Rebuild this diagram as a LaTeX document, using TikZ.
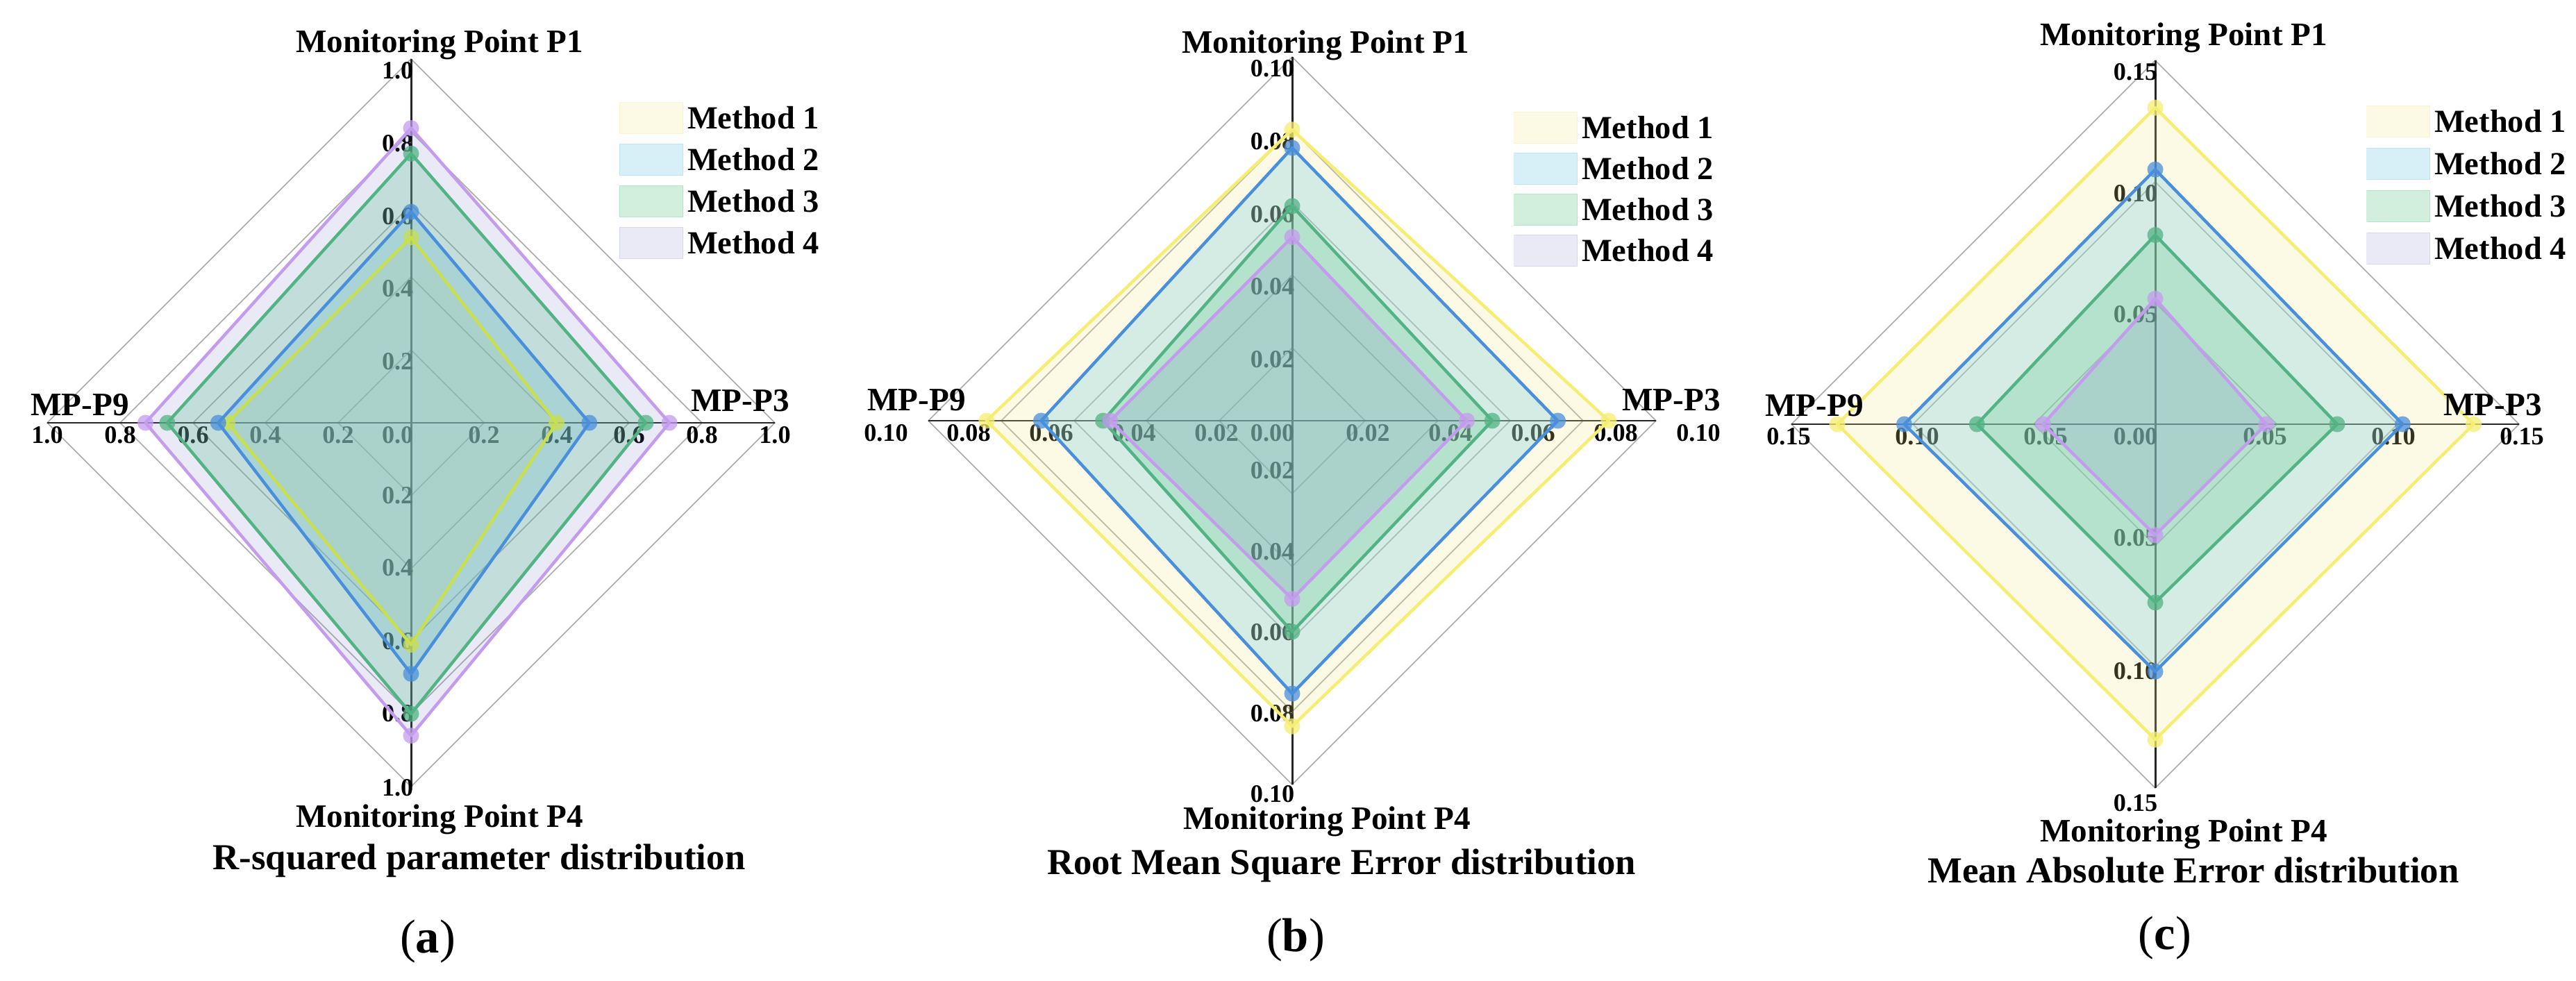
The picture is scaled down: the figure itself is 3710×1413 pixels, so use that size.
\documentclass[tikz,border=0pt]{standalone}
\usepackage{fontspec}
\setmainfont{Liberation Serif}
\usetikzlibrary{positioning}

\definecolor{mAline}{HTML}{F6EE72}
\definecolor{mAlime}{HTML}{C8DF50}
\definecolor{mAfill}{HTML}{F2E68A}
\definecolor{mBline}{HTML}{4A8FDB}
\definecolor{mBfill}{HTML}{7CCFE8}
\definecolor{mCline}{HTML}{52B384}
\definecolor{mCfill}{HTML}{6CCB94}
\definecolor{mDline}{HTML}{C49CEE}
\definecolor{mDfill}{HTML}{6C78C4}

\tikzset{
  gridline/.style={draw=black!33, line width=0.45pt},
  axisline/.style={draw=black!85, line width=0.85pt},
  ticklabel/.style={font=\fontsize{10.3}{11}\selectfont\bfseries, inner sep=0pt},
  axisname/.style={font=\fontsize{13.4}{14}\selectfont\bfseries, inner sep=0pt, anchor=base},
  keytext/.style={font=\fontsize{13.2}{14}\selectfont\bfseries, inner sep=0pt},
  caption/.style={font=\fontsize{15}{16}\selectfont\bfseries, inner sep=0pt, anchor=base},
  tag/.style={font=\fontsize{19.5}{20}\selectfont, inner sep=0pt},
  area/.style n args={2}{fill=#1, fill opacity=#2},
  edge/.style={draw=#1, line width=1.25pt, line join=round},
  dot/.style={fill=#1, fill opacity=0.75},
  swatch/.style n args={2}{draw=#1fill, draw opacity=#2, fill=#1fill, fill opacity=#2, minimum width=0.91cm, minimum height=0.45cm, inner sep=0pt, line width=0.5pt}
}

% #1 name, #2 #3 centre, #4 zero label, #5 value/grid/below/side
\newcommand{\radarframe}[5]{%
  \foreach \v/\gr/\dn/\hz in {#5}
    \draw[gridline] ({#2},{#3-\gr}) -- ({#2+\gr},{#3}) -- ({#2},{#3+\gr}) -- ({#2-\gr},{#3}) -- cycle;
  \draw[axisline] ({#2},{#3-524}) -- ({#2},{#3+524});
  \draw[axisline] ({#2-524},{#3}) -- ({#2+524},{#3});
  \foreach \v/\gr/\dn/\hz [count=\i] in {#5} {
    \node[ticklabel, anchor=north east] (#1-up\i) at ({#2+4},{#3-\gr+4}) {\v};
    \node[ticklabel, anchor=east] (#1-dn\i) at ({#2+4},{#3+\dn}) {\v};
    \node[ticklabel, anchor=north] (#1-lt\i) at ({#2-\hz},{#3+5}) {\v};
    \node[ticklabel, anchor=north] (#1-rt\i) at ({#2+\hz},{#3+5}) {\v};
  }
  \node[ticklabel, anchor=north east] (#1-zero) at ({#2+4},{#3+5}) {#4};
}

% #1 #2 centre, #3 style, #4 P1, #5 P3, #6 P4, #7 P9
\newcommand{\radarpoly}[7]{%
  \path[#3] ({#1},{#2-524*#4}) -- ({#1+524*#5},{#2}) -- ({#1},{#2+524*#6}) -- ({#1-524*#7},{#2}) -- cycle;
}
\newcommand{\radardots}[7]{%
  \fill[#3] ({#1},{#2-524*#4}) circle (0.115cm) ({#1+524*#5},{#2}) circle (0.115cm)
    ({#1},{#2+524*#6}) circle (0.115cm) ({#1-524*#7},{#2}) circle (0.115cm);
}
% #1 #2 centre, #3 fill/opacity/line/P1/P3/P4/P9
\newcommand{\radardata}[3]{%
  \foreach \fc/\fo/\lc/\pa/\pb/\pc/\pd in {#3}
    \radarpoly{#1}{#2}{area={\fc}{\fo}}{\pa}{\pb}{\pc}{\pd};
  \foreach \fc/\fo/\lc/\pa/\pb/\pc/\pd in {#3} {
    \radarpoly{#1}{#2}{edge=\lc}{\pa}{\pb}{\pc}{\pd}
    \radardots{#1}{#2}{dot=\lc}{\pa}{\pb}{\pc}{\pd}
  }
}

\newcommand{\radarkey}[4]{%
  \foreach \m/\col/\op [count=\i] in {1/mA/0.22,2/mB/0.3,3/mC/0.3,4/mD/0.15} {
    \node[swatch={\col}{\op}] (#1-key\i) at ({#2},{#3+#4*(\i-1)}) {};
    \node[keytext, right=0.05cm of #1-key\i] (#1-txt\i) {Method \m};
  }
}

\begin{document}
\begin{tikzpicture}[x=0.01cm, y=-0.01cm]
\path[use as bounding box, fill=white] (0,0) rectangle (3710,1413);

\radarframe{a}{592}{609}{0.0}{0.2/105/105/105, 0.4/210/209/210, 0.6/314/315/314, 0.8/419/419/419, 1.0/524/526/524}
\radardata{592}{609}{mAfill/0.22/mAlime/0.51/0.40/0.61/0.505, mBfill/0.3/mBline/0.58/0.49/0.69/0.53,
  mCfill/0.3/mCline/0.74/0.645/0.80/0.67, mDfill/0.15/mDline/0.81/0.71/0.86/0.73}
\node[axisname] (a-p1) at (633,76) {Monitoring Point P1};
\node[axisname] (a-p4) at (633,1191) {Monitoring Point P4};
\node[axisname] (a-p9) at (115,598) {MP-P9};
\node[axisname] (a-p3) at (1066,593) {MP-P3};
\radarkey{a}{938}{170}{60}
\node[caption] (a-cap) at (690,1252) {R-squared parameter distribution};
\node[tag] (a-tag) at (616,1356) {(\textbf{a})};

\radarframe{b}{1861}{606}{0.00}{0.02/105/72/109, 0.04/210/189/228, 0.06/314/305/347, 0.08/419/422/466, 0.10/524/538/585}
\radardata{1861}{606}{mAfill/0.22/mAline/0.80/0.87/0.84/0.84, mBfill/0.3/mBline/0.75/0.73/0.75/0.69,
  mCfill/0.3/mCline/0.59/0.55/0.58/0.52, mDfill/0.15/mDline/0.505/0.48/0.49/0.50}
\node[axisname] (b-p1) at (1909,77) {Monitoring Point P1};
\node[axisname] (b-p4) at (1911,1194) {Monitoring Point P4};
\node[axisname] (b-p9) at (1320,591) {MP-P9};
\node[axisname] (b-p3) at (2407,591) {MP-P3};
\radarkey{b}{2226}{184}{59}
\node[caption] (b-cap) at (1932,1259) {Root Mean Square Error distribution};
\node[tag] (b-tag) at (1866,1354) {(\textbf{b})};

\radarframe{c}{3104}{611}{0.00}{0.05/175/164/158, 0.10/349/356/343, 0.15/524/546/528}
\radardata{3104}{611}{mAfill/0.22/mAline/0.87/0.875/0.867/0.874, mBfill/0.3/mBline/0.70/0.68/0.68/0.69,
  mCfill/0.3/mCline/0.52/0.50/0.49/0.49, mDfill/0.15/mDline/0.345/0.305/0.305/0.308}
\node[axisname] (c-p1) at (3145,66) {Monitoring Point P1};
\node[axisname] (c-p4) at (3145,1212) {Monitoring Point P4};
\node[axisname] (c-p9) at (2613,600) {MP-P9};
\node[axisname] (c-p3) at (3590,598) {MP-P3};
\radarkey{c}{3454}{175}{61}
\node[caption] (c-cap) at (3159,1271) {Mean Absolute Error distribution};
\node[tag] (c-tag) at (3118,1351) {(\textbf{c})};
\end{tikzpicture}
\end{document}
